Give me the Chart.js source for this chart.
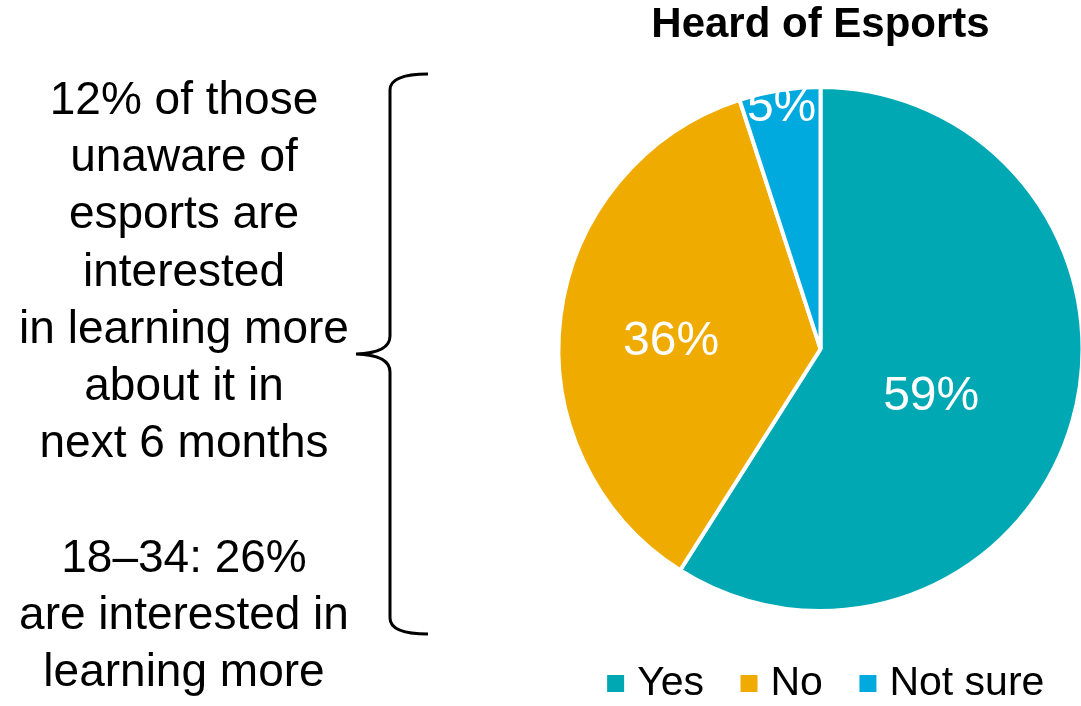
<!DOCTYPE html>
<html>
<head>
<meta charset="utf-8">
<title>Heard of Esports</title>
<script src="https://cdn.jsdelivr.net/npm/chart.js@4"></script>
<style>
    html, body {
        margin: 0;
        padding: 0;
        background: #fff;
    }
    #wrap {
        position: relative;
        width: 1081px;
        height: 706px;
        overflow: hidden;
    }
    #chartBox {
        position: absolute;
        left: 0;
        top: 0;
        width: 1081px;
        height: 706px;
    }
    #note {
        position: absolute;
        left: 0;
        top: 70px;
        width: 368px;
        text-align: center;
        font-family: "Liberation Sans", Arial, sans-serif;
        font-size: 46px;
        line-height: 57.2px;
        color: #000;
        white-space: nowrap;
    }
    #brace {
        position: absolute;
        left: 0;
        top: 0;
    }
</style>
</head>
<body>
<div id="wrap">
    <div id="chartBox"><canvas id="awarenessChart"></canvas></div>
    <div id="note">12% of those<br>unaware of<br>esports are<br>interested<br>in learning more<br>about it in<br>next 6 months<br><br>18–34: 26%<br>are interested in<br>learning more</div>
    <svg id="brace" width="440" height="706">
        <path d="M428,74 Q390,74 390,90 L390,336 Q390,353 356,354 Q390,355 390,372 L390,618 Q390,634 428,634"
              fill="none" stroke="#000" stroke-width="3"/>
    </svg>
</div>
<script>
const labels = ['Yes', 'No', 'Not sure'];
const shares = [59, 36, 5];
const sliceColors = ['#00A8B4', '#EFAB00', '#00AADF'];

// where each % label sits: fraction of the radius along the slice middle, then a vertical nudge
const labelRadius = [0.44, 0.575, 0.95];
const labelNudge = [16, 12, 5];

const sliceLabels = {
    id: 'sliceLabels',
    afterDatasetsDraw(chart) {
        const ctx = chart.ctx;
        const arcs = chart.getDatasetMeta(0).data;
        ctx.save();
        ctx.fillStyle = '#fff';
        ctx.font = '48px "Liberation Sans", Arial, sans-serif';
        ctx.textAlign = 'center';
        ctx.textBaseline = 'middle';
        arcs.forEach((arc, i) => {
            const p = arc.getProps(['x', 'y', 'startAngle', 'endAngle', 'outerRadius'], true);
            const mid = (p.startAngle + p.endAngle) / 2;
            const r = p.outerRadius * labelRadius[i];
            const x = p.x + Math.cos(mid) * r;
            const y = p.y + Math.sin(mid) * r + labelNudge[i];
            ctx.fillText(shares[i] + '%', x, y);
        });
        ctx.restore();
    }
};

// nudge the legend box a little right and down without touching the pie area
const legendShift = {
    id: 'legendShift',
    afterLayout(chart) {
        const lg = chart.legend;
        if (!lg) return;
        lg.left += 9;
        lg.right += 9;
        lg.top += 8;
        lg.bottom += 8;
    }
};

const ctx = document.getElementById('awarenessChart').getContext('2d');
new Chart(ctx, {
    type: 'pie',
    data: {
        labels: labels,
        datasets: [{
            data: shares,
            backgroundColor: sliceColors,
            borderColor: '#fff',
            borderWidth: 4,
            radius: 262
        }]
    },
    options: {
        responsive: true,
        maintainAspectRatio: false,
        animation: false,
        layout: {
            padding: { left: 560, right: 0, top: 0, bottom: 0 }
        },
        plugins: {
            title: {
                display: true,
                text: 'Heard of Esports',
                color: '#000',
                font: { family: '"Liberation Sans", Arial, sans-serif', size: 42, weight: 'bold', lineHeight: 1.2 },
                padding: { top: 0, bottom: 36.6 }
            },
            legend: {
                position: 'bottom',
                labels: {
                    color: '#000',
                    font: { family: '"Liberation Sans", Arial, sans-serif', size: 41 },
                    usePointStyle: true,
                    pointStyle: 'rect',
                    boxWidth: 2,
                    boxHeight: 21,
                    padding: 44
                }
            },
            tooltip: { enabled: false }
        }
    },
    plugins: [sliceLabels, legendShift]
});
</script>
</body>
</html>
